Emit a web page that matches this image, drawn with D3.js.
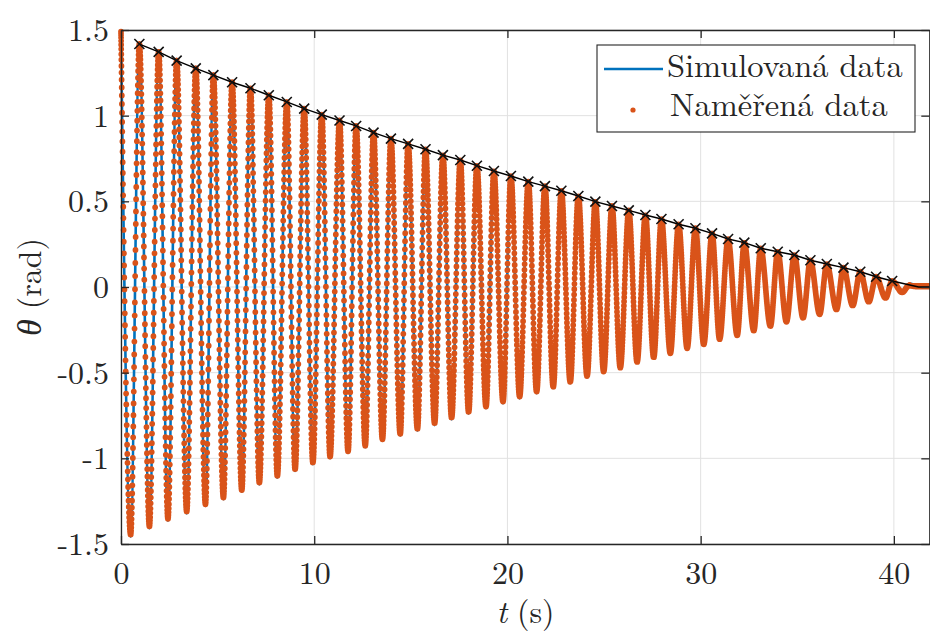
<!DOCTYPE html>
<html><head><meta charset="utf-8">
<script src="https://cdn.jsdelivr.net/npm/d3@7"></script>
<style>
html,body{margin:0;padding:0;background:#fff;}
svg{display:block;}
text{font-family:"Latin Modern Roman","Liberation Serif";fill:#262626;white-space:pre;}
</style></head><body>
<svg id="chart" width="930" height="633"></svg>
<script>
// ---------------- data ----------------
const xTicks = [0, 10, 20, 30, 40];
const xTickLabels = ["0", "10", "20", "30", "40"];
const yTicks = [-1.5, -1, -0.5, 0, 0.5, 1, 1.5];
const yTickLabels = ["-1.5", "-1", "-0.5", "0", "0.5", "1", "1.5"];
const seriesNames = ["Simulovaná data", "Naměřená data"];

// release point
const simStart = [0, 1.50];
const measStart = [0, 1.49];

// maxima (the "x" markers of the envelope)
const peakT = [0.95, 1.95, 2.88, 3.87, 4.78, 5.75, 6.70, 7.65, 8.58, 9.48, 10.39, 11.31,
  12.17, 13.07, 13.97, 14.86, 15.76, 16.66, 17.56, 18.42, 19.30, 20.18, 21.08, 21.94,
  22.79, 23.67, 24.55, 25.41, 26.28, 27.14, 27.97, 28.86, 29.73, 30.59, 31.42, 32.26,
  33.11, 33.99, 34.85, 35.68, 36.53, 37.39, 38.26, 39.08, 39.91];
const peakTheta = [1.418, 1.372, 1.321, 1.276, 1.237, 1.195, 1.160, 1.119, 1.080, 1.041, 1.006, 0.972,
  0.940, 0.901, 0.866, 0.835, 0.804, 0.770, 0.741, 0.708, 0.677, 0.648, 0.615, 0.589,
  0.562, 0.531, 0.498, 0.473, 0.447, 0.420, 0.397, 0.366, 0.343, 0.313, 0.280, 0.259,
  0.226, 0.206, 0.187, 0.156, 0.134, 0.113, 0.089, 0.060, 0.035];

// minima
const troughT = [0.50, 1.47, 2.43, 3.40, 4.37, 5.30, 6.25, 7.16, 8.09, 9.01, 9.93, 10.82,
  11.75, 12.64, 13.53, 14.45, 15.34, 16.23, 17.11, 17.99, 18.89, 19.77, 20.63, 21.51,
  22.37, 23.25, 24.12, 24.98, 25.84, 26.71, 27.57, 28.43, 29.30, 30.16, 30.98, 31.89,
  32.75, 33.61, 34.44, 35.30, 36.16, 37.03, 37.87, 38.70, 39.57, 40.43];
const simTroughTheta = [-1.457, -1.408, -1.364, -1.321, -1.278, -1.239, -1.195, -1.152, -1.113, -1.074, -1.035, -1.000,
  -0.969, -0.936, -0.899, -0.868, -0.839, -0.806, -0.773, -0.740, -0.708, -0.679, -0.650, -0.620,
  -0.591, -0.562, -0.527, -0.500, -0.475, -0.442, -0.416, -0.391, -0.362, -0.339, -0.309, -0.286,
  -0.259, -0.232, -0.206, -0.183, -0.162, -0.134, -0.111, -0.088, -0.066, -0.035];
const measTroughTheta = [-1.445, -1.397, -1.353, -1.310, -1.268, -1.229, -1.185, -1.142, -1.103, -1.064, -1.025, -0.990,
  -0.959, -0.926, -0.889, -0.858, -0.829, -0.796, -0.763, -0.730, -0.698, -0.669, -0.640, -0.611,
  -0.583, -0.554, -0.520, -0.494, -0.471, -0.438, -0.412, -0.387, -0.358, -0.335, -0.305, -0.282,
  -0.255, -0.228, -0.203, -0.180, -0.159, -0.131, -0.108, -0.086, -0.064, -0.031];

// settling at the end
const simTailT = [40.90, 41.30, 41.87];
const simTailTheta = [0.018, 0.000, 0.000];
const measTailT = [40.78, 41.15, 41.87];
const measTailTheta = [0.008, 0.003, 0.003];

// envelope line continues to zero
const envTailT = [41.28, 41.87];
const envTailTheta = [0.0, 0.0];

// ---------------- layout ----------------
const FONT = '"Latin Modern Roman","Liberation Serif"';
const L = 121, R = 930, T = 30, B = 544;
const x = d3.scaleLinear().domain([0, 41.87]).range([L, R]);
const y = d3.scaleLinear().domain([-1.5, 1.5]).range([B, T]);
const svg = d3.select("#chart");
const axisColor = "#262626";
const blue = "#0072BD", orange = "#D95319";

function buildSeries(start, tT, tTh, pT, pTh, tailT, tailTh) {
  const pts = [start];
  for (let i = 0; i < tT.length; i++) {
    pts.push([tT[i], tTh[i]]);
    if (i < pT.length) pts.push([pT[i], pTh[i]]);
  }
  for (let i = 0; i < tailT.length; i++) pts.push([tailT[i], tailTh[i]]);
  return pts;
}
const simPts = buildSeries(simStart, troughT, simTroughTheta, peakT, peakTheta, simTailT, simTailTheta);
const measPts = buildSeries(measStart, troughT, measTroughTheta, peakT, peakTheta, measTailT, measTailTheta);

// grid
const grid = svg.append("g");
grid.selectAll("line.gx").data(xTicks).join("line").attr("class", "gx")
  .attr("x1", d => x(d)).attr("x2", d => x(d)).attr("y1", T).attr("y2", B)
  .attr("stroke", "#e1e1e1").attr("stroke-width", 1);
grid.selectAll("line.gy").data(yTicks).join("line").attr("class", "gy")
  .attr("x1", L).attr("x2", R).attr("y1", d => y(d)).attr("y2", d => y(d))
  .attr("stroke", "#e1e1e1").attr("stroke-width", 1);

const line = d3.line().x(d => x(d[0])).y(d => y(d[1])).curve(d3.curveMonotoneX);

// simulated
svg.append("path").attr("d", line(simPts)).attr("fill", "none")
  .attr("stroke", blue).attr("stroke-width", 2.6);

// measured (sampled dots rendered as a dotted stroke)
const mp = svg.append("path").attr("d", line(measPts)).attr("fill", "none")
  .attr("stroke", orange).attr("stroke-width", 5.8).attr("stroke-linecap", "round");
const node = mp.node();
const total = node.getTotalLength();
function lengthAtX(px) {
  let lo = 0, hi = total;
  for (let i = 0; i < 32; i++) {
    const mid = (lo + hi) / 2;
    if (node.getPointAtLength(mid).x < px) lo = mid; else hi = mid;
  }
  return (lo + hi) / 2;
}
const cum = measPts.map((d, i) => i === 0 ? 0 : (i === measPts.length - 1 ? total : lengthAtX(x(d[0]))));
const fs = 125;
const dash = [];
for (let i = 0; i < measPts.length - 1; i++) {
  const a = measPts[i], b = measPts[i + 1];
  const Lseg = Math.max(0, cum[i + 1] - cum[i]);
  const N = Math.max(1, Math.round((b[0] - a[0]) * fs));
  const Lh = x(b[0]) - x(a[0]), Lv = Math.abs(y(b[1]) - y(a[1]));
  const w = [];
  for (let k = 0; k < N; k++) {
    const u = (k + 0.5) / N;
    w.push(Math.hypot(Lh, Lv * 6 * u * (1 - u)));
  }
  const sw = d3.sum(w);
  for (let k = 0; k < N; k++) dash.push(0, Lseg * w[k] / sw);
}
mp.attr("stroke-dasharray", dash.map(v => v.toFixed(3)).join(" "));

// envelope
const envPts = peakT.map((t, i) => [t, peakTheta[i]]).concat(envTailT.map((t, i) => [t, envTailTheta[i]]));
svg.append("path").attr("d", d3.line().x(d => x(d[0])).y(d => y(d[1]))(envPts))
  .attr("fill", "none").attr("stroke", "#000").attr("stroke-width", 1.4);
svg.append("g").selectAll("path").data(peakT.map((t, i) => [t, peakTheta[i]])).join("path")
  .attr("transform", d => `translate(${x(d[0])},${y(d[1])})`)
  .attr("d", "M-5,-5L5,5M-5,5L5,-5")
  .attr("stroke", "#111").attr("stroke-width", 1.6).attr("fill", "none");

// axes
function styleAxis(g) {
  g.attr("font-family", FONT);
  g.selectAll(".domain").attr("stroke", axisColor).attr("stroke-width", 1.3);
  g.selectAll(".tick line").attr("stroke", axisColor).attr("stroke-width", 1.3);
}
const fsTick = 32;
const gx = svg.append("g").attr("transform", `translate(0,${B})`)
  .call(d3.axisBottom(x).tickValues(xTicks).tickFormat((d, i) => xTickLabels[i]).tickSizeInner(-8).tickSizeOuter(0));
gx.selectAll(".tick text").attr("y", 40).attr("dy", null)
  .style("font-size", fsTick + "px").style("font-family", FONT).attr("fill", axisColor);
styleAxis(gx);
const gy = svg.append("g").attr("transform", `translate(${L},0)`)
  .call(d3.axisLeft(y).tickValues(yTicks).tickFormat((d, i) => yTickLabels[i]).tickSizeInner(-8).tickSizeOuter(0));
gy.selectAll(".tick text").attr("x", -12).attr("dy", "0.33em")
  .style("font-size", fsTick + "px").style("font-family", FONT).attr("fill", axisColor);
styleAxis(gy);
const gt = svg.append("g").attr("transform", `translate(0,${T})`)
  .call(d3.axisTop(x).tickValues(xTicks).tickFormat("").tickSizeInner(-8).tickSizeOuter(0));
styleAxis(gt);
const gr = svg.append("g").attr("transform", `translate(${R - 0.7},0)`)
  .call(d3.axisRight(y).tickValues(yTicks).tickFormat("").tickSizeInner(-8).tickSizeOuter(0));
styleAxis(gr);

// axis labels
const xl = svg.append("text").attr("x", (L + R) / 2).attr("y", 623).attr("text-anchor", "middle")
  .style("font-size", "32px").style("font-family", FONT);
xl.append("tspan").style("font-style", "italic").text("t");
xl.append("tspan").attr("dx", 10).text("(s)");
const yl = svg.append("text").attr("transform", `translate(41,${(T + B) / 2}) rotate(-90)`)
  .attr("text-anchor", "middle").style("font-size", "32px").style("font-family", FONT);
yl.append("tspan").style("font-style", "italic").style("font-family", '"Liberation Serif"').style("font-size", "34px").text("θ");
yl.append("tspan").attr("dx", 10).text("(rad)");

// legend
const lg = svg.append("g");
lg.append("rect").attr("x", 597).attr("y", 45).attr("width", 318).attr("height", 87)
  .attr("fill", "#fff").attr("stroke", axisColor).attr("stroke-width", 1.1);
lg.append("line").attr("x1", 604).attr("x2", 663).attr("y1", 69).attr("y2", 69)
  .attr("stroke", blue).attr("stroke-width", 2.6);
lg.append("circle").attr("cx", 633).attr("cy", 110).attr("r", 2.6).attr("fill", orange);
lg.append("text").attr("x", 667).attr("y", 77).style("font-size", "32.5px").style("font-family", FONT).text(seriesNames[0]);
lg.append("text").attr("x", 670).attr("y", 116).style("font-size", "32.5px").style("font-family", FONT).text(seriesNames[1]);
</script>
</body></html>
